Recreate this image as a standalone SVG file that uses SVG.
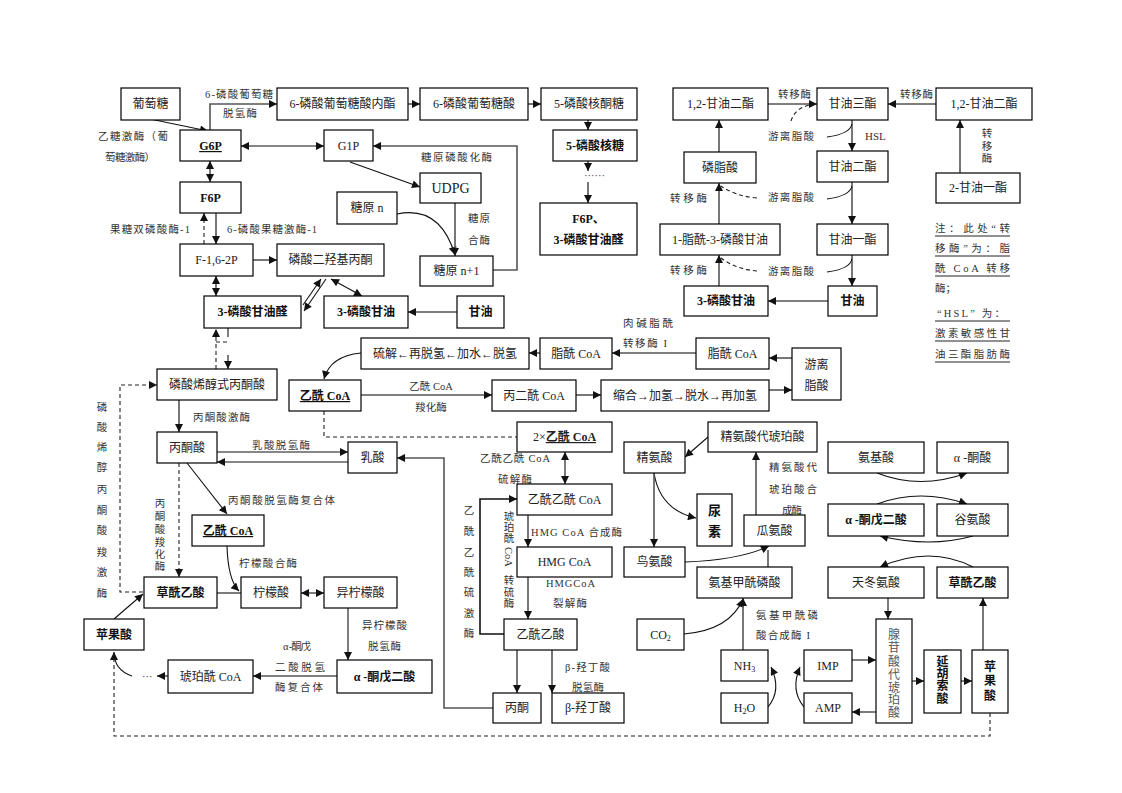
<svg xmlns="http://www.w3.org/2000/svg" width="1122" height="793" viewBox="0 0 1122 793">
<style>
text{font-family:'Liberation Serif','Noto Sans CJK SC',serif;}
.b{fill:#fff;stroke:#000;stroke-width:1.2;}
.t{font-size:12px;fill:#222;text-anchor:middle;}
.tb{font-size:12px;fill:#111;text-anchor:middle;font-weight:bold;}
.l{font-size:10.5px;fill:#333;}
.lc{font-size:10.5px;fill:#333;text-anchor:middle;}
.c{fill:none;stroke:#555;stroke-width:1.6;}
.k{fill:none;stroke:#111;stroke-width:1.1;}
.d{fill:none;stroke:#222;stroke-width:1.1;stroke-dasharray:4,3;}
.u{stroke:#222;stroke-width:1;}
</style>
<defs>
<marker id="a" viewBox="0 0 10 10" refX="10" refY="5" markerWidth="9" markerHeight="8" orient="auto-start-reverse" markerUnits="userSpaceOnUse"><path d="M0,0 L10,5 L0,10 z" fill="#111"/></marker>
</defs>
<rect width="1122" height="793" fill="#fff"/>

<g id="connectors">
<path class="c" d="M210,130 V104 H277" marker-end="url(#a)"/>
<path class="k" d="M150,119 L208,131" marker-end="url(#a)"/>
<path class="k" d="M241,146 H324" marker-start="url(#a)" marker-end="url(#a)"/>
<path class="k" d="M210,161 V182" marker-start="url(#a)" marker-end="url(#a)"/>
<path class="c" d="M216,213 V244" marker-end="url(#a)"/>
<path class="d" d="M204,244 V213" marker-end="url(#a)"/>
<path class="c" d="M253,260 H277" marker-end="url(#a)"/>
<path class="k" d="M216,276 V296" marker-start="url(#a)" marker-end="url(#a)"/>
<path class="k" d="M303,305 L321,279" marker-end="url(#a)"/>
<path class="k" d="M326,279 L304,311" marker-end="url(#a)"/>
<path class="k" d="M331,279 L362,296" marker-start="url(#a)" marker-end="url(#a)"/>
<path class="c" d="M408,104 H420" marker-end="url(#a)"/>
<path class="c" d="M528,104 H541" marker-end="url(#a)"/>
<path class="c" d="M588,120 V130" marker-end="url(#a)"/>
<path class="c" d="M588,161 V171" marker-end="url(#a)"/>
<path class="c" d="M588,182 V203" marker-end="url(#a)"/>
<path class="k" d="M350,162 L420,187" marker-end="url(#a)"/>
<path class="k" d="M397,214 Q440,205 455,255" marker-end="url(#a)"/>
<path class="c" d="M455,203 V256" marker-end="url(#a)"/>
<path class="c" d="M493,270 H517 V146 H373" marker-end="url(#a)"/>
<path class="c" d="M457,312 H408" marker-end="url(#a)"/>
<path class="k" d="M228,328 V337"/>
<path class="d" d="M216,342 H228"/>
<path class="k" d="M228,355 V369" marker-end="url(#a)"/>
<path class="d" d="M216,369 V329" marker-end="url(#a)"/>

<path class="c" d="M768,104 H817" marker-end="url(#a)"/>
<path class="d" d="M791,121 Q795,108 810,105"/>
<path class="c" d="M936,104 H888" marker-end="url(#a)"/>
<path class="c" d="M960,173 V120" marker-end="url(#a)"/>
<path class="c" d="M852,120 V151" marker-end="url(#a)"/>
<path class="k" d="M852,124 Q850,134 827,137"/>
<path class="c" d="M852,182 V224" marker-end="url(#a)"/>
<path class="k" d="M852,186 Q850,196 827,199"/>
<path class="c" d="M852,255 V286" marker-end="url(#a)"/>
<path class="k" d="M852,259 Q850,269 827,272"/>
<path class="c" d="M828,301 H768" marker-end="url(#a)"/>
<path class="c" d="M719,286 V255" marker-end="url(#a)"/>
<path class="d" d="M757,271 Q735,269 721,258"/>
<path class="c" d="M719,224 V183" marker-end="url(#a)"/>
<path class="d" d="M757,198 Q735,196 721,186"/>
<path class="c" d="M719,152 V120" marker-end="url(#a)"/>

<path class="c" d="M792,358 H769" marker-end="url(#a)"/>
<path class="c" d="M696,353 H612" marker-end="url(#a)"/>
<path class="c" d="M540,353 H529" marker-end="url(#a)"/>
<path class="k" d="M361,353 Q330,356 324,379" marker-end="url(#a)"/>
<path class="c" d="M361,395 H492" marker-end="url(#a)"/>
<path class="c" d="M576,395 H601" marker-end="url(#a)"/>
<path class="c" d="M769,390 H792" marker-end="url(#a)"/>
<path class="d" d="M324,411 V437 H517"/>

<path class="k" d="M565,452 V484" marker-start="url(#a)" marker-end="url(#a)"/>
<path class="c" d="M528,515 V547" marker-end="url(#a)"/>
<path class="c" d="M528,577 V619" marker-end="url(#a)"/>
<path class="k" style="stroke-width:1.6" d="M504,634 H480 V499 H517" marker-end="url(#a)"/>
<path class="c" d="M517,650 V693" marker-end="url(#a)"/>
<path class="c" d="M552,650 V693" marker-end="url(#a)"/>
<path class="c" d="M493,708 H444 V458 H397" marker-end="url(#a)"/>

<path class="c" d="M179,400 V432" marker-end="url(#a)"/>
<path class="k" d="M217,452 H348" marker-end="url(#a)"/>
<path class="k" d="M348,462 H217" marker-end="url(#a)"/>
<path class="k" d="M187,463 L227,514" marker-end="url(#a)"/>
<path class="d" d="M179,463 V577" marker-end="url(#a)"/>
<path class="d" d="M143,592 H120 V385 H157" marker-end="url(#a)"/>
<path class="k" d="M227,546 Q228,580 239,591" marker-end="url(#a)"/>
<path class="k" d="M217,593 H241"/>
<path class="k" d="M301,593 H324" marker-start="url(#a)" marker-end="url(#a)"/>
<path class="k" d="M348,608 V660" marker-end="url(#a)"/>
<path class="c" d="M337,676 H253" marker-end="url(#a)"/>
<path class="c" d="M168,676 H157" marker-end="url(#a)"/>
<path class="k" d="M132,676 Q114,670 114,652" marker-end="url(#a)"/>
<path class="k" d="M114,619 L143,594" marker-end="url(#a)"/>
<path class="d" d="M990,713 V736 H114 V653"/>

<path class="k" d="M708,437 L685,457" marker-end="url(#a)"/>
<path class="k" d="M654,473 Q660,510 696,518" marker-end="url(#a)"/>
<path class="c" d="M654,473 V547" marker-end="url(#a)"/>
<path class="c" d="M756,515 V452" marker-end="url(#a)"/>
<path class="k" d="M685,562 Q740,560 769,546" marker-end="url(#a)"/>
<path class="c" d="M768,567 V550"/>
<path class="k" d="M684,634 Q730,630 743,599" marker-end="url(#a)"/>
<path class="c" d="M743,650 V598" marker-end="url(#a)"/>
<path class="k" d="M768,707 Q782,690 771,667" marker-end="url(#a)"/>
<path class="k" d="M804,707 Q790,690 800,667" marker-end="url(#a)"/>
<path class="k" d="M852,660 H876" marker-end="url(#a)"/>
<path class="k" d="M876,712 H852" marker-end="url(#a)"/>
<path class="k" d="M912,681 H924" marker-end="url(#a)"/>
<path class="k" d="M961,681 H972" marker-end="url(#a)"/>
<path class="c" d="M983,650 V598" marker-end="url(#a)"/>
<path class="k" d="M888,598 V619" marker-end="url(#a)"/>
<path class="k" d="M973,567 Q930,545 880,567" marker-end="url(#a)"/>
<path class="k" d="M877,473 Q920,490 967,473" marker-end="url(#a)"/>
<path class="k" d="M877,504 Q920,488 967,504" marker-end="url(#a)"/>
<path class="k" d="M973,536 Q930,548 880,536" marker-end="url(#a)"/>
</g>

<g id="labels">
<text class="l" x="205" y="98" textLength="68">6-磷酸葡萄糖</text>
<text class="l" x="223" y="117" textLength="34">脱氢酶</text>
<text class="l" x="98" y="140" textLength="70">乙糖激酶（葡</text>
<text class="l" x="105" y="161" textLength="50">萄糖激酶）</text>
<text class="l" x="110" y="233" textLength="80">果糖双磷酸酶-1</text>
<text class="l" x="227" y="233" textLength="90">6-磷酸果糖激酶-1</text>
<text class="l" x="421" y="161" textLength="71">糖原磷酸化酶</text>
<text class="l" x="468" y="222" textLength="22">糖原</text>
<text class="l" x="468" y="244" textLength="22">合酶</text>
<text class="l" x="584" y="179">······</text>
<text class="l" x="778" y="98" textLength="33">转移酶</text>
<text class="l" x="768" y="140" textLength="46">游离脂酸</text>
<text class="l" x="768" y="201" textLength="46">游离脂酸</text>
<text class="l" x="768" y="275" textLength="46">游离脂酸</text>
<text class="l" x="865" y="140" style="font-size:11px">HSL</text>
<text class="l" x="900" y="98" textLength="33">转移酶</text>
<text class="lc" x="987" y="137">转</text>
<text class="lc" x="987" y="150">移</text>
<text class="lc" x="987" y="162">酶</text>
<text class="l" x="670" y="202" textLength="37">转移酶</text>
<text class="l" x="670" y="274" textLength="37">转移酶</text>
<text class="l" x="935" y="232" textLength="75">注：此处“转</text>
<text class="l" x="935" y="252" textLength="75">移酶”为：脂</text>
<text class="l" x="935" y="272" textLength="75">酰 CoA 转移</text>
<text class="l" x="935" y="292">酶；</text>
<text class="l" x="937" y="317" textLength="68">“HSL” 为：</text>
<text class="l" x="935" y="337" textLength="75">激素敏感性甘</text>
<text class="l" x="935" y="358" textLength="75">油三酯脂肪酶</text>
<path class="u" d="M935,236 H1010 M935,256 H1010 M935,276 H1010 M935,321 H1010 M935,341 H1010 M935,362 H1010"/>
<text class="l" x="623" y="327" textLength="50">肉碱脂酰</text>
<text class="l" x="623" y="347" textLength="44">转移酶 I</text>
<text class="lc" x="431" y="390">乙酰 CoA</text>
<text class="lc" x="431" y="411">羧化酶</text>
<text class="l" x="193" y="421" textLength="57">丙酮酸激酶</text>
<text class="l" x="252" y="449" textLength="58">乳酸脱氢酶</text>
<text class="l" x="228" y="504" textLength="107">丙酮酸脱氢酶复合体</text>
<text class="l" x="480" y="462" textLength="70">乙酰乙酰 CoA</text>
<text class="l" x="498" y="483" textLength="34">硫解酶</text>
<text class="l" x="531" y="536" textLength="91">HMG CoA 合成酶</text>
<text class="l" x="546" y="587" textLength="49">HMGCoA</text>
<text class="l" x="553" y="607" textLength="34">裂解酶</text>
<text class="l" x="565" y="671" textLength="45">β-羟丁酸</text>
<text class="l" x="572" y="691" textLength="32">脱氢酶</text>
<text class="l" x="239" y="567" textLength="58">柠檬酸合酶</text>
<text class="l" x="362" y="629" textLength="45">异柠檬酸</text>
<text class="l" x="368" y="650" textLength="33">脱氢酶</text>
<text class="l" x="283" y="650" textLength="28">α -酮戊</text>
<text class="l" x="275" y="671" textLength="50">二酸脱氢</text>
<text class="l" x="275" y="691" textLength="48">酶复合体</text>
<text class="l" x="142" y="680">···</text>
<text class="l" x="769" y="471" textLength="48">精氨酸代</text>
<text class="l" x="769" y="493" textLength="48">琥珀酸合</text>
<text class="l" x="782" y="514" textLength="20">成酶</text>
<text class="l" x="756" y="619" textLength="62">氨基甲酰磷</text>
<text class="l" x="756" y="639" textLength="54">酸合成酶 I</text>
<g class="lc">
<text x="102" y="411">磷</text><text x="102" y="431">酸</text><text x="102" y="451">烯</text><text x="102" y="471">醇</text><text x="102" y="493">丙</text><text x="102" y="514">酮</text><text x="102" y="534">酸</text><text x="102" y="556">羧</text><text x="102" y="576">激</text><text x="102" y="597">酶</text>
<text x="160" y="507">丙</text><text x="160" y="520">酮</text><text x="160" y="533">酸</text><text x="160" y="546">羧</text><text x="160" y="558">化</text><text x="160" y="570">酶</text>
<text x="469" y="514">乙</text><text x="469" y="535">酰</text><text x="469" y="556">乙</text><text x="469" y="576">酰</text><text x="469" y="596">硫</text><text x="469" y="617">激</text><text x="469" y="637">酶</text>
<text x="509" y="520">琥</text><text x="509" y="531">珀</text><text x="509" y="542">酰</text>
<text x="0" y="0" transform="translate(505,557) rotate(90)">CoA</text>
<text x="509" y="584">转</text><text x="509" y="596">硫</text><text x="509" y="607">酶</text>
</g>
</g>

<g id="n-putaotang"><rect class="b" x="121" y="88" width="59" height="32"/><text class="t" x="150.5" y="108">葡萄糖</text></g>
<g id="n-neizhi"><rect class="b" x="277" y="88" width="131" height="32"/><text class="t" x="342.5" y="108">6-磷酸葡萄糖酸内酯</text></g>
<g id="n-ptts"><rect class="b" x="420" y="88" width="108" height="32"/><text class="t" x="474" y="108">6-磷酸葡萄糖酸</text></g>
<g id="n-hetongtang"><rect class="b" x="541" y="88" width="96" height="32"/><text class="t" x="589" y="108">5-磷酸核酮糖</text></g>
<g id="n-g6p"><rect class="b" x="180" y="130" width="61" height="31"/><text class="tb" x="210.5" y="150" text-decoration="underline">G6P</text></g>
<g id="n-g1p"><rect class="b" x="324" y="130" width="49" height="31"/><text class="t" x="348.5" y="150">G1P</text></g>
<g id="n-hetang"><rect class="b" x="553" y="130" width="84" height="31"/><text class="tb" x="595" y="150">5-磷酸核糖</text></g>
<g id="n-f6p"><rect class="b" x="180" y="182" width="61" height="31"/><text class="tb" x="210.5" y="202">F6P</text></g>
<g id="n-udpg"><rect class="b" x="420" y="173" width="61" height="30"/><text class="t" x="450.5" y="193" style="font-size:14px">UDPG</text></g>
<g id="n-tangyuan"><rect class="b" x="337" y="192" width="60" height="32"/><text class="t" x="367" y="212">糖原 n</text></g>
<g id="n-f6p-3pgal"><rect class="b" x="540" y="203" width="97" height="52"/><text class="tb" x="588.5" y="223">F6P、</text><text class="tb" x="588.5" y="244">3-磷酸甘油醛</text></g>
<g id="n-f16"><rect class="b" x="180" y="244" width="73" height="32"/><text class="t" x="216.5" y="264">F-1,6-2P</text></g>
<g id="n-dhap"><rect class="b" x="277" y="244" width="107" height="32"/><text class="t" x="330.5" y="264">磷酸二羟基丙酮</text></g>
<g id="n-tangyuan1"><rect class="b" x="420" y="256" width="73" height="30"/><text class="t" x="456.5" y="275">糖原 n+1</text></g>
<g id="n-3pgal"><rect class="b" x="204" y="296" width="97" height="32"/><text class="tb" x="252.5" y="316">3-磷酸甘油醛</text></g>
<g id="n-3pg"><rect class="b" x="324" y="296" width="84" height="32"/><text class="tb" x="366" y="316">3-磷酸甘油</text></g>
<g id="n-ganyou"><rect class="b" x="457" y="296" width="47" height="32"/><text class="tb" x="480.5" y="316">甘油</text></g>

<g id="n-dag1"><rect class="b" x="673" y="88" width="95" height="32"/><text class="t" x="720.5" y="108">1,2-甘油二酯</text></g>
<g id="n-tag"><rect class="b" x="817" y="88" width="71" height="32"/><text class="t" x="852.5" y="108">甘油三酯</text></g>
<g id="n-dag2"><rect class="b" x="936" y="88" width="96" height="32"/><text class="t" x="984" y="108">1,2-甘油二酯</text></g>
<g id="n-linzhisuan"><rect class="b" x="684" y="152" width="72" height="31"/><text class="t" x="720" y="172">磷脂酸</text></g>
<g id="n-dag3"><rect class="b" x="817" y="151" width="71" height="31"/><text class="t" x="852.5" y="171">甘油二酯</text></g>
<g id="n-mag2"><rect class="b" x="936" y="173" width="84" height="30"/><text class="t" x="978" y="192">2-甘油一酯</text></g>
<g id="n-lpa"><rect class="b" x="660" y="224" width="120" height="31"/><text class="t" x="720" y="244">1-脂酰-3-磷酸甘油</text></g>
<g id="n-mag"><rect class="b" x="817" y="224" width="71" height="31"/><text class="t" x="852.5" y="244">甘油一酯</text></g>
<g id="n-3pg2"><rect class="b" x="684" y="286" width="84" height="30"/><text class="tb" x="726" y="305">3-磷酸甘油</text></g>
<g id="n-ganyou2"><rect class="b" x="828" y="286" width="49" height="30"/><text class="tb" x="852.5" y="305">甘油</text></g>

<g id="n-betaox"><rect class="b" x="361" y="338" width="168" height="31"/><text class="t" x="445" y="358">硫解←再脱氢←加水←脱氢</text></g>
<g id="n-zxcoa1"><rect class="b" x="540" y="338" width="72" height="31"/><text class="t" x="576" y="358">脂酰 CoA</text></g>
<g id="n-zxcoa2"><rect class="b" x="696" y="338" width="73" height="31"/><text class="t" x="732.5" y="358">脂酰 CoA</text></g>
<g id="n-youli"><rect class="b" x="792" y="348" width="49" height="52"/><text class="t" x="816.5" y="369">游离</text><text class="t" x="816.5" y="390">脂酸</text></g>
<g id="n-accoa1"><rect class="b" x="289" y="380" width="72" height="31"/><text class="tb" x="325" y="400" text-decoration="underline">乙酰 CoA</text></g>
<g id="n-malcoa"><rect class="b" x="492" y="380" width="84" height="31"/><text class="t" x="534" y="400">丙二酰 CoA</text></g>
<g id="n-fas"><rect class="b" x="601" y="380" width="168" height="31"/><text class="t" x="685" y="400">缩合→加氢→脱水→再加氢</text></g>
<g id="n-pep"><rect class="b" x="157" y="369" width="120" height="31"/><text class="t" x="217" y="389">磷酸烯醇式丙酮酸</text></g>
<g id="n-2accoa"><rect class="b" x="517" y="422" width="95" height="30"/><text class="t" x="564.5" y="441">2×<tspan font-weight="bold" text-decoration="underline">乙酰 CoA</tspan></text></g>
<g id="n-bingtongsuan"><rect class="b" x="157" y="432" width="60" height="31"/><text class="t" x="187" y="452">丙酮酸</text></g>
<g id="n-rusuan"><rect class="b" x="348" y="442" width="49" height="31"/><text class="t" x="372.5" y="462">乳酸</text></g>
<g id="n-asa"><rect class="b" x="708" y="422" width="109" height="30"/><text class="t" x="762.5" y="441">精氨酸代琥珀酸</text></g>
<g id="n-arg"><rect class="b" x="624" y="442" width="61" height="31"/><text class="t" x="654.5" y="462">精氨酸</text></g>
<g id="n-aa"><rect class="b" x="828" y="442" width="96" height="31"/><text class="t" x="876" y="462">氨基酸</text></g>
<g id="n-ka"><rect class="b" x="937" y="442" width="71" height="31"/><text class="t" x="972.5" y="462">α -酮酸</text></g>
<g id="n-aacoa"><rect class="b" x="517" y="484" width="95" height="31"/><text class="t" x="564.5" y="504">乙酰乙酰 CoA</text></g>
<g id="n-niaosu"><rect class="b" x="697" y="494" width="35" height="52"/><text class="tb" x="714.5" y="515" style="font-size:13px">尿</text><text class="tb" x="714.5" y="536" style="font-size:13px">素</text></g>
<g id="n-akg2"><rect class="b" x="828" y="504" width="96" height="32"/><text class="tb" x="876" y="524">α -酮戊二酸</text></g>
<g id="n-glu"><rect class="b" x="937" y="504" width="71" height="32"/><text class="t" x="972.5" y="524">谷氨酸</text></g>
<g id="n-accoa2"><rect class="b" x="192" y="515" width="72" height="31"/><text class="tb" x="228" y="535" text-decoration="underline">乙酰 CoA</text></g>
<g id="n-cit2"><rect class="b" x="744" y="515" width="61" height="31"/><text class="t" x="774.5" y="535">瓜氨酸</text></g>
<g id="n-hmg"><rect class="b" x="517" y="547" width="95" height="30"/><text class="t" x="564.5" y="566">HMG CoA</text></g>
<g id="n-orn"><rect class="b" x="624" y="547" width="61" height="30"/><text class="t" x="654.5" y="566">鸟氨酸</text></g>
<g id="n-cp"><rect class="b" x="697" y="567" width="95" height="31"/><text class="t" x="744.5" y="587">氨基甲酰磷酸</text></g>
<g id="n-asp"><rect class="b" x="828" y="567" width="96" height="31"/><text class="t" x="876" y="587">天冬氨酸</text></g>
<g id="n-oaa2"><rect class="b" x="937" y="567" width="71" height="31"/><text class="tb" x="972.5" y="587">草酰乙酸</text></g>
<g id="n-oaa1"><rect class="b" x="144" y="577" width="73" height="31"/><text class="tb" x="180.5" y="597">草酰乙酸</text></g>
<g id="n-cit"><rect class="b" x="241" y="577" width="60" height="31"/><text class="t" x="271" y="597">柠檬酸</text></g>
<g id="n-icit"><rect class="b" x="324" y="577" width="73" height="31"/><text class="t" x="360.5" y="597">异柠檬酸</text></g>
<g id="n-mal1"><rect class="b" x="84" y="619" width="60" height="31"/><text class="tb" x="114" y="639">苹果酸</text></g>
<g id="n-acac"><rect class="b" x="504" y="619" width="73" height="31"/><text class="t" x="540.5" y="639">乙酰乙酸</text></g>
<g id="n-co2"><rect class="b" x="637" y="619" width="47" height="31"/><text class="t" x="660.5" y="639">CO<tspan style="font-size:8px" dy="2">2</tspan></text></g>
<g id="n-ams"><rect class="b" x="876" y="619" width="36" height="104"/><g class="t" style="fill:#555"><text x="894" y="639">腺</text><text x="894" y="652">苷</text><text x="894" y="666">酸</text><text x="894" y="679">代</text><text x="894" y="692">琥</text><text x="894" y="704">珀</text><text x="894" y="717">酸</text></g></g>
<g id="n-akg1"><rect class="b" x="337" y="660" width="95" height="33"/><text class="tb" x="384.5" y="681">α -酮戊二酸</text></g>
<g id="n-succoa"><rect class="b" x="168" y="660" width="85" height="33"/><text class="t" x="210.5" y="681">琥珀酰 CoA</text></g>
<g id="n-nh3"><rect class="b" x="721" y="650" width="47" height="31"/><text class="t" x="744.5" y="670">NH<tspan style="font-size:8px" dy="2">3</tspan></text></g>
<g id="n-imp"><rect class="b" x="804" y="650" width="48" height="31"/><text class="t" x="828" y="670">IMP</text></g>
<g id="n-fum"><rect class="b" x="924" y="650" width="37" height="63"/><g class="tb"><text x="942.5" y="666">延</text><text x="942.5" y="678">胡</text><text x="942.5" y="690">索</text><text x="942.5" y="703">酸</text></g></g>
<g id="n-mal2"><rect class="b" x="972" y="650" width="36" height="63"/><g class="tb"><text x="990" y="671">苹</text><text x="990" y="685">果</text><text x="990" y="700">酸</text></g></g>
<g id="n-acetone"><rect class="b" x="493" y="693" width="48" height="30"/><text class="t" x="517" y="712">丙酮</text></g>
<g id="n-bhb"><rect class="b" x="552" y="693" width="72" height="30"/><text class="t" x="588" y="712">β-羟丁酸</text></g>
<g id="n-h2o"><rect class="b" x="721" y="693" width="47" height="30"/><text class="t" x="744.5" y="712">H<tspan style="font-size:8px" dy="2">2</tspan><tspan dy="-2">O</tspan></text></g>
<g id="n-amp"><rect class="b" x="804" y="693" width="48" height="30"/><text class="t" x="828" y="712">AMP</text></g>
</svg>
